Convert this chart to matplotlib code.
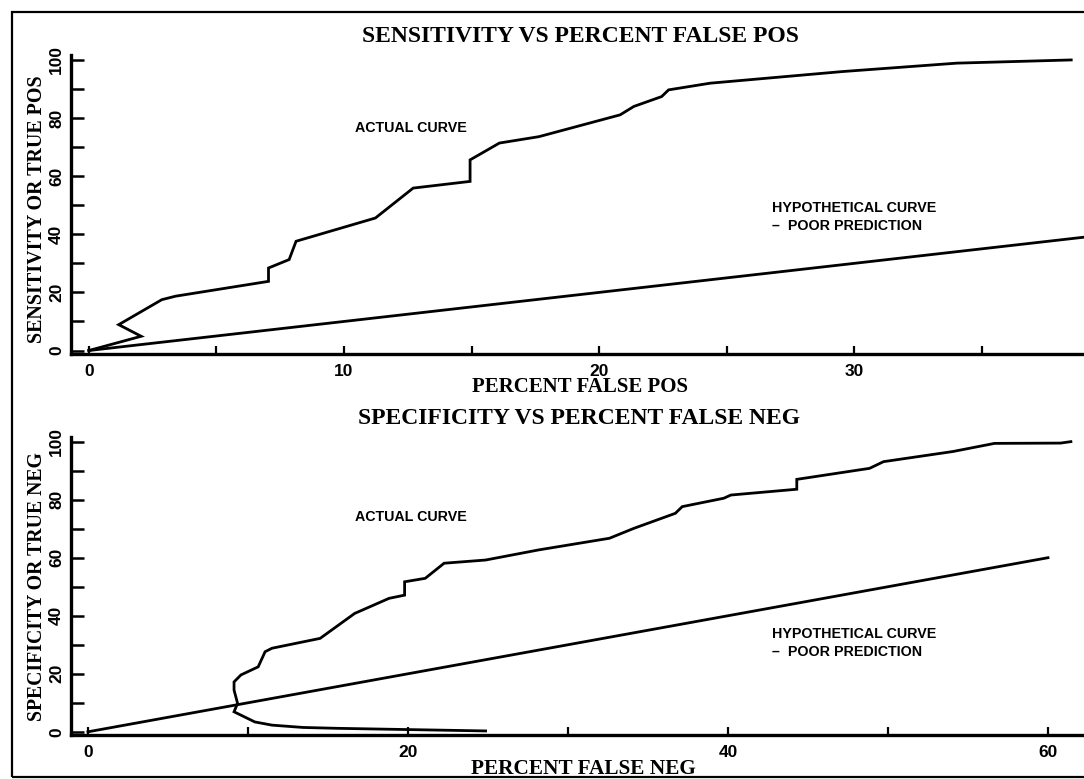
import matplotlib
matplotlib.use("Agg")
import matplotlib.pyplot as plt
from matplotlib.patches import Rectangle

# ---------------- data ----------------
top_title = "SENSITIVITY VS PERCENT FALSE POS"
top_xlabel = "PERCENT FALSE POS"
top_ylabel = "SENSITIVITY OR TRUE POS"
bot_title = "SPECIFICITY VS PERCENT FALSE NEG"
bot_xlabel = "PERCENT FALSE NEG"
bot_ylabel = "SPECIFICITY OR TRUE NEG"

top_actual_x = [0.0, 2.05, 1.17, 2.86, 3.40, 7.04, 7.04, 7.85, 8.12, 11.23, 12.71, 14.94, 14.94,
                16.09, 17.64, 20.82, 21.36, 22.45, 22.72, 24.35, 29.53, 34.02, 38.5]
top_actual_y = [0.0, 4.9, 8.9, 17.5, 18.7, 23.8, 28.4, 31.3, 37.6, 45.6, 55.9, 58.2, 65.6,
                71.4, 73.6, 81.1, 84.0, 87.4, 89.7, 92.0, 96.0, 98.9, 100.0]
top_hypo_x = [0, 40]
top_hypo_y = [0, 40]

bot_actual_x = [24.85, 15.59, 13.44, 11.5, 10.43, 9.13, 9.35, 9.13, 9.13, 9.56, 10.64, 11.07,
                11.5, 14.51, 16.67, 18.82, 19.79, 19.79, 21.08, 22.26, 24.85, 28.18, 32.59,
                34.11, 36.71, 37.14, 39.74, 40.18, 44.3, 44.3, 48.85, 49.72, 54.06, 56.66,
                60.78, 61.43]
bot_actual_y = [0.3, 1.2, 1.5, 2.3, 3.4, 6.9, 9.8, 14.4, 17.2, 19.6, 22.4, 27.6,
                28.8, 32.2, 40.8, 46.0, 47.1, 51.7, 52.9, 58.1, 59.2, 62.7, 66.7,
                70.1, 75.3, 77.6, 80.5, 81.6, 83.6, 87.0, 90.8, 93.1, 96.6, 99.4,
                99.5, 100.0]
bot_hypo_x = [0, 60]
bot_hypo_y = [0, 60]

top_xticks_major = [0, 10, 20, 30]
top_xticks_minor = [5, 15, 25, 35]
bot_xticks_major = [0, 20, 40, 60]
bot_xticks_minor = [10, 30, 50]
yticks_major = [0, 20, 40, 60, 80, 100]
yticks_minor = [10, 30, 50, 70, 90]

# ---------------- figure ----------------
W, H = 1084, 779
fig = plt.figure(figsize=(W / 100, H / 100), dpi=100)
fig.patch.set_facecolor("white")

serif = "Liberation Serif"
sans = "Liberation Sans"


def fx(px):
    return px / W


def fy(py):
    return 1 - py / H


# outer border
fig.patches.append(Rectangle((fx(12), fy(777)), 1.2, fy(12) - fy(777),
                             transform=fig.transFigure, fill=False,
                             edgecolor="black", linewidth=1.6, zorder=0))


def make_axes(top_px, bottom_px, xlim, ylim):
    ax = fig.add_axes([fx(71), fy(bottom_px), fx(W) - fx(71), fy(top_px) - fy(bottom_px)])
    ax.set_xlim(*xlim)
    ax.set_ylim(*ylim)
    for s in ["top", "right"]:
        ax.spines[s].set_visible(False)
    for s in ["left", "bottom"]:
        ax.spines[s].set_linewidth(2.4)
    ax.tick_params(axis="x", which="both", direction="in", length=6, width=1.6,
                   pad=7, labelsize=12.5)
    ax.tick_params(axis="y", which="both", direction="in", length=9.5, width=1.8,
                   pad=5, labelsize=12.5)
    ax.set_facecolor("none")
    return ax


def style_ticks(ax):
    for lab in ax.get_xticklabels():
        lab.set_fontweight("bold")
        lab.set_family(sans)
    for lab in ax.get_yticklabels():
        lab.set_fontweight("bold")
        lab.set_family(sans)
        lab.set_rotation(90)
        lab.set_va("center")


# ---- top panel ----
ax1 = make_axes(55, 354, (-0.7, 39.0), (-1.2, 101.7))
ax1.plot(top_actual_x, top_actual_y, color="black", linewidth=2.0, solid_joinstyle="miter")
ax1.plot(top_hypo_x, top_hypo_y, color="black", linewidth=2.0)
ax1.set_xticks(top_xticks_major)
ax1.set_xticks(top_xticks_minor, minor=True)
ax1.set_yticks(yticks_major)
ax1.set_yticks(yticks_minor, minor=True)
style_ticks(ax1)

# ---- bottom panel ----
ax2 = make_axes(437, 735, (-1.06, 62.25), (-1.1, 101.6))
ax2.plot(bot_actual_x, bot_actual_y, color="black", linewidth=2.0, solid_joinstyle="miter")
ax2.plot(bot_hypo_x, bot_hypo_y, color="black", linewidth=2.0)
ax2.set_xticks(bot_xticks_major)
ax2.set_xticks(bot_xticks_minor, minor=True)
ax2.set_yticks(yticks_major)
ax2.set_yticks(yticks_minor, minor=True)
style_ticks(ax2)

# ---- titles and labels (figure coords) ----
fig.text(fx(580), fy(36), top_title, ha="center", va="center", family=serif,
         fontweight="bold", fontsize=17)
fig.text(fx(580), fy(387), top_xlabel, ha="center", va="center", family=serif,
         fontweight="bold", fontsize=15)
fig.text(fx(37), fy(209), top_ylabel, ha="center", va="center", family=serif,
         fontweight="bold", fontsize=14.4, rotation=90)

fig.text(fx(579), fy(419), bot_title, ha="center", va="center", family=serif,
         fontweight="bold", fontsize=17)
fig.text(fx(583), fy(769), bot_xlabel, ha="center", va="center", family=serif,
         fontweight="bold", fontsize=15.3)
fig.text(fx(37), fy(587), bot_ylabel, ha="center", va="center", family=serif,
         fontweight="bold", fontsize=14.2, rotation=90)

# ---- annotations ----
ann_kw = dict(ha="left", va="center", family=sans, fontweight="bold", fontsize=10.3)
fig.text(fx(355), fy(128), "ACTUAL CURVE", **ann_kw)
fig.text(fx(772), fy(208), "HYPOTHETICAL CURVE", **ann_kw)
fig.text(fx(772), fy(226), "\u2013  POOR PREDICTION", **ann_kw)

fig.text(fx(355), fy(517), "ACTUAL CURVE", **ann_kw)
fig.text(fx(772), fy(634), "HYPOTHETICAL CURVE", **ann_kw)
fig.text(fx(772), fy(652), "\u2013  POOR PREDICTION", **ann_kw)

fig.savefig("out.png", dpi=100, facecolor="white")
